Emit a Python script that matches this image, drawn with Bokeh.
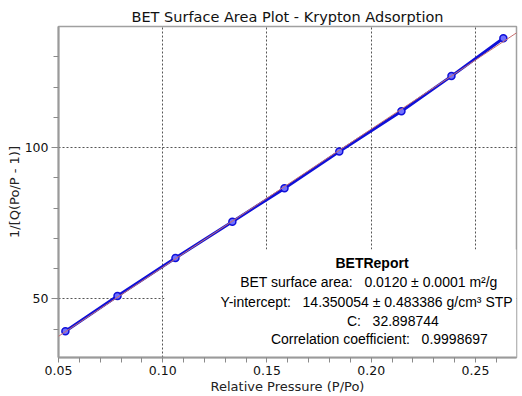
import numpy as np
from bokeh.plotting import figure
from bokeh.models import Range1d, FixedTicker, BoxAnnotation, Slope, Label
from bokeh.embed import file_html
from bokeh.resources import INLINE

# ---- data ----
rel_pressure = [0.0533, 0.0783, 0.1061, 0.1334, 0.1584, 0.1847, 0.2145, 0.2385, 0.2634]
bet_transform = [39.3, 50.9, 63.5, 75.5, 86.5, 98.7, 112.0, 123.6, 136.1]

x_major = [0.05, 0.10, 0.15, 0.20, 0.25]
x_minor = [0.06, 0.07, 0.08, 0.09, 0.11, 0.12, 0.13, 0.14, 0.16, 0.17, 0.18, 0.19,
           0.21, 0.22, 0.23, 0.24, 0.26]
y_major = [50, 100]
y_minor = [40, 60, 70, 80, 90, 110, 120, 130]

chart_title = "BET Surface Area Plot - Krypton Adsorption"
x_title = "Relative Pressure (P/Po)"
y_title = "1/[Q(Po/P - 1)]"

report_title = "BETReport"
report_lines = [
    "BET surface area:\u00a0\u00a0 0.0120 \u00b1 0.0001 m\u00b2/g",
    "Y-intercept:\u00a0\u00a0 14.350054 \u00b1 0.483386 g/cm\u00b3 STP",
    "C:\u00a0\u00a0 32.898744",
    "Correlation coefficient:\u00a0\u00a0 0.9998697",
]

AXIS_FONT = "DejaVu Sans"
REPORT_FONT = "Liberation Sans"

X0, X1 = 0.05, 0.2697
Y0, Y1 = 30.6, 140.0

p = figure(width=522, height=396, output_backend="svg", toolbar_location=None,
           x_range=Range1d(X0, X1), y_range=Range1d(Y0, Y1), title=chart_title,
           min_border_left=58, min_border_right=6, min_border_top=26, min_border_bottom=39)

p.title.align = "center"
p.title.vertical_align = "top"
p.title.text_font = AXIS_FONT
p.title.text_font_size = "14.5px"
p.title.text_font_style = "normal"
p.title.text_color = "#111111"
p.title.standoff = 0
p.title.offset = 0

p.outline_line_color = "#a0a0a0"
p.outline_line_width = 1.5
p.background_fill_color = "white"
p.border_fill_color = "white"

for ax in (p.xaxis[0], p.yaxis[0]):
    ax.axis_line_color = "#9a9a9a"
    ax.axis_line_width = 2
    ax.major_tick_line_color = "#8a8a8a"
    ax.minor_tick_line_color = "#8a8a8a"
    ax.major_tick_in = 0
    ax.minor_tick_in = 0
    ax.major_label_text_font = AXIS_FONT
    ax.major_label_text_font_size = "12.5px"
    ax.major_label_text_color = "#111111"
    ax.axis_label_text_font = AXIS_FONT
    ax.axis_label_text_font_size = "13px"
    ax.axis_label_text_font_style = "normal"
    ax.axis_label_text_color = "#222222"

p.xaxis.ticker = FixedTicker(ticks=x_major, minor_ticks=x_minor)
p.yaxis.ticker = FixedTicker(ticks=y_major, minor_ticks=y_minor)
p.xaxis.major_label_overrides = {v: f"{v:.2f}" for v in x_major}
p.xaxis.major_tick_out = 5
p.xaxis.minor_tick_out = 5
p.xaxis.major_label_standoff = 3
p.xaxis.axis_label = x_title
p.xaxis.axis_label_standoff = 1
p.xaxis.axis_label_text_line_height = 0.8
p.yaxis.major_tick_out = 7
p.yaxis.minor_tick_out = 5
p.yaxis.major_label_standoff = 3
p.yaxis.axis_label = y_title
p.yaxis.axis_label_standoff = 0

for g in (p.xgrid[0], p.ygrid[0]):
    g.grid_line_color = "#555555"
    g.grid_line_dash = "2 2"
    g.grid_line_width = 1
p.xgrid.ticker = FixedTicker(ticks=x_major)
p.ygrid.ticker = FixedTicker(ticks=y_major)

# white panel behind the report text, hiding the grid there
box = BoxAnnotation(left=0.1008, right=X1, bottom=Y0, top=66.3,
                    fill_color="white", fill_alpha=1.0, line_color=None, level="underlay")
p.add_layout(box)

# regression line of the data
slope, intercept = np.polyfit(rel_pressure, bet_transform, 1)
p.add_layout(Slope(gradient=slope, y_intercept=intercept, line_color="#c87070", line_width=1))

p.line(rel_pressure, bet_transform, line_color="#1010d8", line_width=3)
p.scatter(rel_pressure, bet_transform, marker="circle", size=7,
          line_color="#1010d8", line_width=1.5, fill_color="#7070ff")

# report text
report_x = [0.2004, 0.1989, 0.1978, 0.2104, 0.2039]
report_y = [61.7, 55.4, 49.1, 42.8, 36.55]
texts = [report_title] + report_lines
for i, t in enumerate(texts):
    p.add_layout(Label(x=report_x[i], y=report_y[i], text=t,
                       text_align="center", text_baseline="middle",
                       text_font=REPORT_FONT, text_font_size="14px",
                       text_font_style="bold" if i == 0 else "normal",
                       text_color="#000000"))

open("out.html", "w").write(file_html(p, INLINE))
